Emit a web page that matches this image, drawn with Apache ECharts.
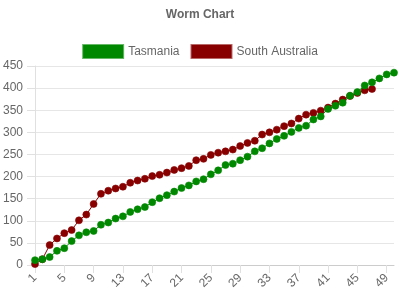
<!DOCTYPE html>
<html>
<head>
<meta charset="utf-8">
<script src="https://cdn.jsdelivr.net/npm/echarts@6/dist/echarts.min.js"></script>
<style>html,body{margin:0;padding:0;background:#fff}#c{width:400px;height:300px}</style>
</head>
<body>
<div id="c"></div>
<script>
var categories = [];
for (var i = 1; i <= 50; i++) categories.push(String(i));

var tasmania = [11,13,18,32,38,54,67,74,77,91,96,105,110,120,126,131,142,151,158,166,174,180,189,194,205,214,226,229,237,245,257,264,275,285,292,301,310,315,329,336,353,360,367,383,391,406,413,422,431,435];
var southAustralia = [2,13,45,60,72,79,101,114,138,161,168,173,177,186,191,195,201,204,209,215,219,224,237,240,249,254,257,261,269,276,281,295,300,306,314,320,331,340,344,349,356,365,374,382,389,395,398];

var seriesNames = ['Tasmania', 'South Australia'];
var seriesColors = ['#008800', '#880000'];

var font = "'Liberation Sans', Arial, Helvetica, sans-serif";
var chart = echarts.init(document.getElementById('c'), null, {renderer: 'canvas'});
chart.setOption({
  animation: false,
  textStyle: {fontFamily: font},
  title: {
    text: 'Worm Chart', left: 'center', top: 9, padding: 0,
    textStyle: {fontSize: 12, fontWeight: 'bold', color: '#666', fontFamily: font}
  },
  legend: {
    data: seriesNames, top: 44, left: 'center', padding: 0,
    itemWidth: 40, itemHeight: 13, itemGap: 11, icon: 'rect',
    textStyle: {fontSize: 12, color: '#666', fontFamily: font}
  },
  grid: {left: 35, right: 6, top: 66, bottom: 35, containLabel: false, outerBoundsMode: 'none'},
  xAxis: {
    type: 'category', data: categories, boundaryGap: false,
    axisLine: {show: true, lineStyle: {color: '#cccccc', width: 1}},
    axisTick: {show: true, length: 8, interval: 3, lineStyle: {color: '#e0e0e0'}},
    axisLabel: {interval: 3, rotate: 45, fontSize: 12, color: '#666', margin: 11, padding: [8, 0, 0, 0], fontFamily: font},
    splitLine: {show: false}
  },
  yAxis: {
    type: 'value', min: 0, max: 450, interval: 50,
    axisLine: {show: true, lineStyle: {color: '#e0e0e0'}},
    axisTick: {show: true, length: 8, lineStyle: {color: '#e0e0e0'}},
    axisLabel: {fontSize: 12, color: '#666', margin: 12, fontFamily: font},
    splitLine: {show: true, lineStyle: {color: '#e6e6e6'}}
  },
  series: [
    {
      name: seriesNames[0], type: 'line', data: tasmania, z: 3,
      symbol: 'circle', symbolSize: 7, showAllSymbol: true,
      itemStyle: {color: seriesColors[0], borderColor: 'rgba(0,136,0,0.6)', borderWidth: 1},
      lineStyle: {color: seriesColors[0], width: 1}
    },
    {
      name: seriesNames[1], type: 'line', data: southAustralia, z: 2,
      symbol: 'circle', symbolSize: 7, showAllSymbol: true,
      itemStyle: {color: seriesColors[1], borderColor: 'rgba(136,0,0,0.6)', borderWidth: 1},
      lineStyle: {color: seriesColors[1], width: 1}
    }
  ]
});
</script>
</body>
</html>
